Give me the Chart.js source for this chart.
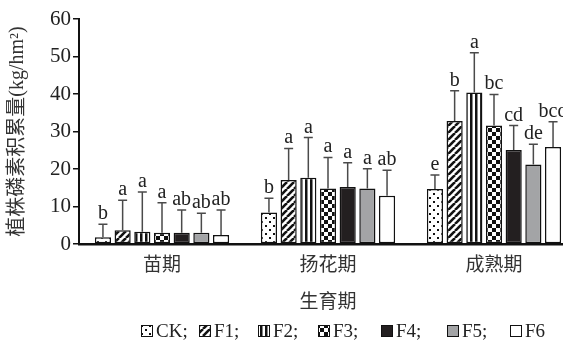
<!DOCTYPE html>
<html>
<head>
<meta charset="utf-8">
<script src="https://cdn.jsdelivr.net/npm/chart.js@4/dist/chart.umd.min.js"></script>
<style>
  html, body { margin: 0; padding: 0; background: #fff; overflow: hidden; }
  #wrap { width: 600px; height: 346px; }
</style>
</head>
<body>
<div id="wrap"><canvas id="c" width="600" height="346"></canvas></div>
<script>
// Growth stages
const stages = ['苗期', '扬花期', '成熟期'];
const treatments = ['CK', 'F1', 'F2', 'F3', 'F4', 'F5', 'F6'];

// Plant P accumulation (kg/hm²), mean per stage
const ckMean = [1.8, 8.4, 14.7];
const f1Mean = [3.7, 17.1, 32.8];
const f2Mean = [3.3, 17.7, 40.4];
const f3Mean = [3.0, 14.8, 31.6];
const f4Mean = [3.0, 15.2, 25.1];
const f5Mean = [3.0, 14.8, 21.2];
const f6Mean = [2.4, 12.9, 25.9];

// Standard deviations
const ckSd = [3.5, 3.8, 3.7];
const f1Sd = [8.0, 8.4, 8.1];
const f2Sd = [10.6, 10.7, 10.6];
const f3Sd = [8.0, 8.3, 8.3];
const f4Sd = [6.1, 6.5, 6.5];
const f5Sd = [5.2, 5.3, 5.4];
const f6Sd = [6.7, 6.8, 6.7];

// Significance letters
const ckSig = ['b', 'b', 'e'];
const f1Sig = ['a', 'a', 'b'];
const f2Sig = ['a', 'a', 'a'];
const f3Sig = ['a', 'a', 'bc'];
const f4Sig = ['ab', 'a', 'cd'];
const f5Sig = ['ab', 'a', 'de'];
const f6Sig = ['ab', 'ab', 'bcd'];

const yTicks = [0, 10, 20, 30, 40, 50, 60];

// ---- fill patterns ----
function makePattern(w, h, draw) {
  const c = document.createElement('canvas');
  c.width = w; c.height = h;
  const g = c.getContext('2d');
  g.fillStyle = '#fff';
  g.fillRect(0, 0, w, h);
  g.fillStyle = '#111';
  draw(g, w, h);
  return g.createPattern(c, 'repeat');
}
const dotPattern = makePattern(8, 8, (g) => {
  g.fillRect(1, 1, 2, 2);
  g.fillRect(5, 5, 2, 2);
});
const diagPattern = makePattern(7, 7, (g, w, h) => {
  g.strokeStyle = '#111';
  g.lineWidth = 2.6;
  for (let k = -1; k <= 1; k++) {
    g.beginPath();
    g.moveTo(k * w, h);
    g.lineTo(k * w + w, 0);
    g.stroke();
  }
});
const vertPattern = makePattern(5, 4, (g) => {
  g.fillRect(0, 0, 2.5, 4);
});
const checkPattern = makePattern(8, 8, (g) => {
  g.fillRect(0, 0, 4, 4);
  g.fillRect(4, 4, 4, 4);
});

const fills = [dotPattern, diagPattern, vertPattern, checkPattern, '#231f20', '#a3a4a6', '#ffffff'];
const means = [ckMean, f1Mean, f2Mean, f3Mean, f4Mean, f5Mean, f6Mean];
const sds = [ckSd, f1Sd, f2Sd, f3Sd, f4Sd, f5Sd, f6Sd];
const sigs = [ckSig, f1Sig, f2Sig, f3Sig, f4Sig, f5Sig, f6Sig];

const serif = "'Liberation Serif', 'DejaVu Serif', serif";
const cjk = "'Noto Sans CJK SC', 'Noto Sans', sans-serif";
const mixed = "'Liberation Serif', 'Noto Sans CJK SC', serif";

// error bars + letters
const errorBarPlugin = {
  id: 'errorBars',
  afterDatasetsDraw(chart) {
    const ctx = chart.ctx;
    const y = chart.scales.y;
    ctx.save();
    chart.data.datasets.forEach((ds, di) => {
      const meta = chart.getDatasetMeta(di);
      meta.data.forEach((bar, i) => {
        const top = y.getPixelForValue(ds.data[i] + ds.sd[i]);
        ctx.strokeStyle = '#4a4a4a';
        ctx.lineWidth = 1.5;
        ctx.beginPath();
        ctx.moveTo(bar.x, bar.y);
        ctx.lineTo(bar.x, top);
        ctx.moveTo(bar.x - 4.5, top);
        ctx.lineTo(bar.x + 4.5, top);
        ctx.stroke();
        ctx.fillStyle = '#222';
        ctx.font = '20px ' + serif;
        ctx.textAlign = 'center';
        ctx.textBaseline = 'alphabetic';
        ctx.fillText(ds.sig[i], bar.x, top - 5);
      });
    });
    ctx.restore();
  }
};

// legend row: box left edges for each entry
const legendBoxX = [141, 199, 258, 318, 381, 447, 510];
const legendRow = {
  id: 'legendRow',
  afterDraw(chart) {
    const ctx = chart.ctx;
    ctx.save();
    ctx.font = '19px ' + serif;
    ctx.textBaseline = 'middle';
    ctx.textAlign = 'left';
    const cy = 331;
    chart.data.datasets.forEach((ds, i) => {
      const box = 12;
      const x = legendBoxX[i];
      ctx.fillStyle = ds.backgroundColor;
      ctx.fillRect(x, cy - box / 2, box, box);
      ctx.strokeStyle = '#111';
      ctx.lineWidth = 1;
      ctx.strokeRect(x + 0.5, cy - box / 2 + 0.5, box - 1, box - 1);
      const label = ds.label + (i < chart.data.datasets.length - 1 ? ';' : '');
      ctx.fillStyle = '#222';
      ctx.fillText(label, x + box + 3, cy + 1);
    });
    ctx.restore();
  }
};

const datasets = treatments.map((t, i) => ({
  label: t,
  data: means[i],
  sd: sds[i],
  sig: sigs[i],
  backgroundColor: fills[i],
  borderColor: '#111',
  borderWidth: 1.5,
  borderSkipped: false,
  barPercentage: 0.82,
  categoryPercentage: 0.83
}));

new Chart(document.getElementById('c'), {
  type: 'bar',
  data: { labels: stages, datasets },
  options: {
    responsive: false,
    animation: false,
    events: [],
    layout: { padding: { top: 19, right: 23, bottom: 32, left: 0 } },
    plugins: { legend: { display: false }, tooltip: { enabled: false } },
    scales: {
      x: {
        grid: { display: false, drawTicks: false },
        border: { display: true, color: '#111', width: 2.5 },
        ticks: { color: '#333', font: { family: cjk, size: 19 }, padding: 8 },
        title: { display: true, text: '生育期', color: '#333', font: { family: cjk, size: 19 }, padding: { top: 0, bottom: 2 } },
        afterFit(s) { s.height = 70; }
      },
      y: {
        min: 0, max: 60,
        afterBuildTicks(s) { s.ticks = yTicks.map(v => ({ value: v })); },
        grid: { display: true, drawOnChartArea: false, drawTicks: true, tickLength: 6, color: '#111', lineWidth: 1.5 },
        border: { display: true, color: '#111', width: 2 },
        ticks: { color: '#222', font: { family: serif, size: 21 }, padding: 2 },
        title: { display: true, text: '植株磷素积累量(kg/hm²)', color: '#333', font: { family: mixed, size: 20 }, padding: { top: 6, bottom: 0 } },
        afterFit(s) { s.width = 79; }
      }
    }
  },
  plugins: [errorBarPlugin, legendRow]
});
</script>
</body>
</html>
